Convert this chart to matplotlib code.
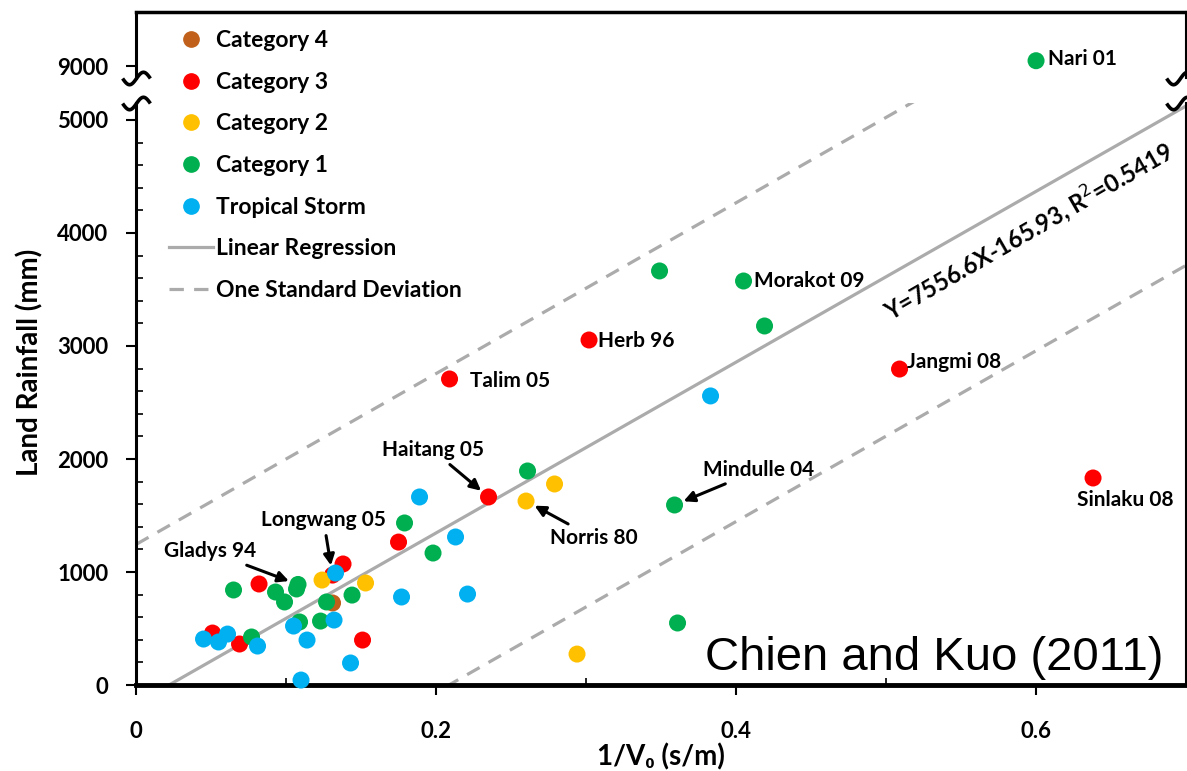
import numpy as np
import matplotlib
matplotlib.use("Agg")
import matplotlib.pyplot as plt
from matplotlib.lines import Line2D
from matplotlib.path import Path

plt.rcParams['font.family'] = ['Lato', 'DejaVu Sans']

# data: 1/V0 (s/m) and land rainfall (mm)
cat4_x = [0.131]
cat4_y = [726]
cat3_x = [0.051, 0.069, 0.082, 0.131, 0.138, 0.151, 0.175, 0.209, 0.235, 0.302, 0.509, 0.638]
cat3_y = [460, 363, 894, 973, 1071, 398, 1265, 2708, 1664, 3053, 2796, 1832]
cat2_x = [0.124, 0.153, 0.260, 0.279, 0.294]
cat2_y = [929, 903, 1628, 1779, 274]
cat1_x = [0.065, 0.077, 0.093, 0.099, 0.108, 0.107, 0.109, 0.123, 0.127, 0.144,
          0.179, 0.198, 0.261, 0.349, 0.359, 0.361, 0.405, 0.419, 0.600]
cat1_y = [841, 425, 823, 735, 890, 850, 558, 566, 735, 796,
          1434, 1168, 1894, 3664, 1593, 549, 3575, 3177, 9050]
ts_x = [0.045, 0.055, 0.061, 0.081, 0.105, 0.110, 0.114, 0.132, 0.133, 0.143,
        0.177, 0.189, 0.213, 0.221, 0.383]
ts_y = [407, 381, 451, 345, 522, 44, 398, 575, 991, 195,
        779, 1664, 1310, 805, 2558]

series = [
    ("Category 4", cat4_x, cat4_y, "#C0601A"),
    ("Category 3", cat3_x, cat3_y, "#FF0000"),
    ("Category 2", cat2_x, cat2_y, "#FFC000"),
    ("Category 1", cat1_x, cat1_y, "#00B050"),
    ("Tropical Storm", ts_x, ts_y, "#00B0F0"),
]

# regression and one standard deviation
slope = 7556.6
intercept = -165.93
sd = 1410

# named storms: (name, x, y, offset in pixels, arrow, alignment)
storms = [
    ("Nari 01", 0.600, 9050, (12, 2), False, "left"),
    ("Morakot 09", 0.405, 3575, (10, 0), False, "left"),
    ("Herb 96", 0.302, 3053, (9, -1), False, "left"),
    ("Talim 05", 0.209, 2708, (20, -2), False, "left"),
    ("Jangmi 08", 0.509, 2796, (7, 7), False, "left"),
    ("Sinlaku 08", 0.638, 1832, (32, -22), False, "center"),
    ("Haitang 05", 0.235, 1664, (-56, 47), True, "center"),
    ("Longwang 05", 0.131, 973, (-9, 55), True, "center"),
    ("Gladys 94", 0.108, 890, (-88, 33), True, "center"),
    ("Norris 80", 0.260, 1628, (68, -37), True, "center"),
    ("Mindulle 04", 0.359, 1593, (84, 35), True, "center"),
]

x_ticks = [0, 0.2, 0.4, 0.6]
x_tick_labels = ["0", "0.2", "0.4", "0.6"]
y_ticks = [0, 1000, 2000, 3000, 4000, 5000]
y_top_ticks = [9000]
break_at = 5150

fig = plt.figure(figsize=(11.87, 7.71), dpi=100)
ax = fig.add_axes([0.1146, 0.1115, 0.8846, 0.7549])
ax_top = fig.add_axes([0.1146, 0.8988, 0.8846, 0.0856])

ax.set_xlim(0, 0.7)
ax_top.set_xlim(0, 0.7)
ax.set_ylim(0, break_at)
ax_top.set_ylim(8890, 9500)

# lines
xs = np.array([0, 0.7])
gray = "#ABABAB"
dash = (0, (4.5, 3.2))
ax.plot(xs, slope * xs + intercept, color=gray, lw=2.3, zorder=1)
ax.plot(xs, slope * xs + intercept + sd, color=gray, lw=2.3, ls=dash, zorder=1)
ax.plot(xs, slope * xs + intercept - sd, color=gray, lw=2.3, ls=dash, zorder=1)

handles = []
for name, sx, sy, col in series:
    sx = np.array(sx)
    sy = np.array(sy)
    low = sy < break_at
    ax.scatter(sx[low], sy[low], s=150, color=col, edgecolors="none", zorder=3, clip_on=False)
    if (~low).any():
        ax_top.scatter(sx[~low], sy[~low], s=150, color=col, edgecolors="none", zorder=3)
    handles.append(Line2D([], [], marker="o", ls="none", color=col, markersize=11, label=name))
handles.append(Line2D([], [], color=gray, lw=2.3, label="Linear Regression"))
handles.append(Line2D([], [], color=gray, lw=2.3, ls=dash, label="One Standard Deviation"))

# storm names
for name, sx, sy, off, arrow, ha in storms:
    target = ax_top if sy >= break_at else ax
    props = None
    if arrow:
        props = dict(arrowstyle="-|>", color="black", lw=2.2, mutation_scale=16,
                     shrinkA=2, shrinkB=7)
    target.annotate(name, (sx, sy), xytext=off, textcoords="offset pixels",
                    ha=ha, va="center", fontsize=15, fontweight="bold",
                    arrowprops=props, zorder=4)

ax.annotate("Y=7556.6X-165.93, R$^2$=0.5419", (0.595, slope * 0.595 + intercept),
            xytext=(0, -36), textcoords="offset pixels", rotation=30,
            rotation_mode="anchor", ha="center", va="center",
            fontsize=17, fontweight="bold")

ax.text(0.978, 0.025, "Chien and Kuo (2011)", transform=ax.transAxes, ha="right",
        va="baseline", fontsize=34, family="Liberation Sans")

# axes styling
ax.spines["top"].set_visible(False)
ax_top.spines["bottom"].set_visible(False)
ax.spines["left"].set_linewidth(2.2)
ax.spines["bottom"].set_linewidth(3.5)
ax.spines["right"].set_linewidth(1.5)
ax_top.spines["left"].set_linewidth(2.2)
ax_top.spines["right"].set_linewidth(1.5)
ax_top.spines["top"].set_linewidth(2.5)

ax.set_xticks(x_ticks)
ax.set_xticklabels(x_tick_labels)
ax.set_xticks([0.1, 0.3, 0.5], minor=True)
ax.set_yticks(y_ticks)
ax.set_yticklabels([str(v) for v in y_ticks])
ax.set_yticks(np.arange(200, 5001, 200), minor=True)
ax.tick_params(which="major", direction="out", length=7, width=1.5, labelsize=16)
ax.tick_params(which="minor", direction="in", length=5, width=1.2)
ax.tick_params(axis="x", which="major", pad=19)
ax.tick_params(axis="y", which="major", pad=13)
for lab in ax.get_xticklabels() + ax.get_yticklabels():
    lab.set_fontweight("bold")

ax_top.set_xticks([])
ax_top.set_yticks(y_top_ticks)
ax_top.set_yticklabels([str(v) for v in y_top_ticks])
ax_top.tick_params(axis="y", direction="out", length=7, width=1.5, labelsize=16, pad=13)
for lab in ax_top.get_yticklabels():
    lab.set_fontweight("bold")

# break marks on the spines (small wave drawn as a marker)
t = np.linspace(-1, 1, 25)
wave = Path(np.column_stack([t, 0.45 * np.sin(np.pi * t)]))
for a, yy in [(ax_top, 0.0), (ax, 1.0)]:
    for xx in (0.0, 0.994):
        a.plot([xx], [yy], marker=wave, markersize=20, mfc="none", mec="black",
               mew=2.6, transform=a.transAxes, clip_on=False, zorder=10)

fig.text(661 / 1187, 1 - 757 / 771, "1/V\u2080 (s/m)", ha="center", va="center",
         fontsize=20, fontweight="bold")
fig.text(30 / 1187, 1 - 362 / 771, "Land Rainfall (mm)", ha="center", va="center",
         rotation=90, fontsize=20, fontweight="bold")

fig.legend(handles=handles, loc="upper left", bbox_to_anchor=(160 / 1187, 1 - 21 / 771),
           frameon=False, prop=dict(weight="bold", size=16.5), handlelength=1.9,
           handletextpad=0.15, labelspacing=0.9, borderaxespad=0)

fig.savefig("out.png", dpi=100)
